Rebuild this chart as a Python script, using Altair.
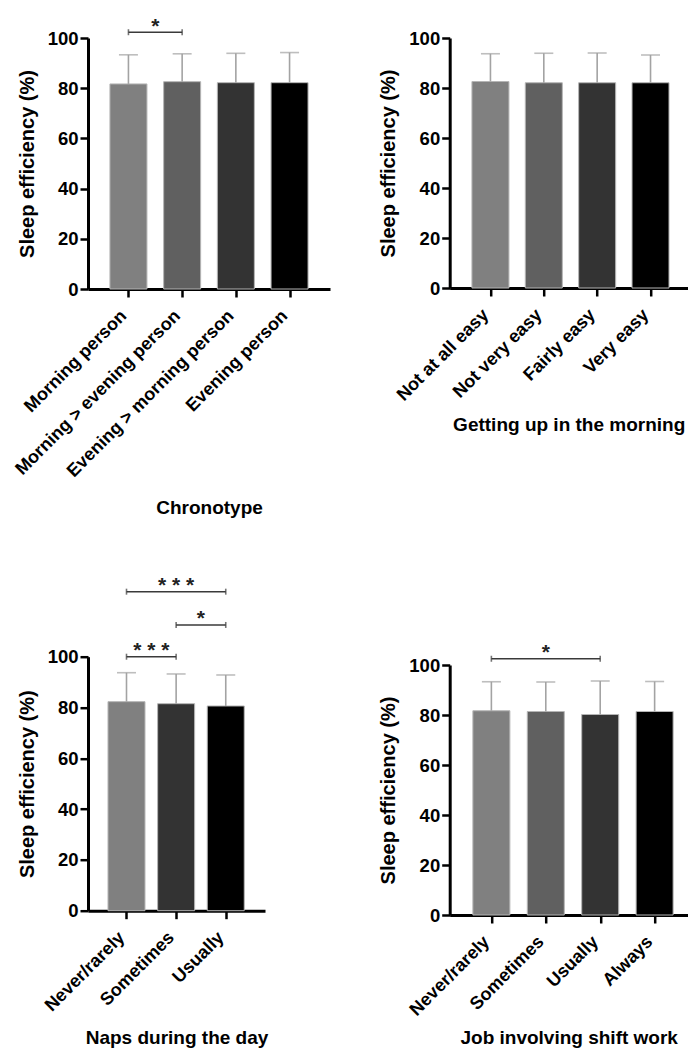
import altair as alt
import pandas as pd

FONT = "Liberation Sans"

# Chronotype
chrono_cats = ["Morning person", "Morning > evening person",
               "Evening > morning person", "Evening person"]
chrono_mean = [81.7, 82.6, 82.2, 82.2]
chrono_sd = [11.6, 11.1, 11.7, 12.0]
chrono_sig = [(0, 1, 102.3, "*")]

# Getting up in the morning
wake_cats = ["Not at all easy", "Not very easy", "Fairly easy", "Very easy"]
wake_mean = [82.6, 82.1, 82.1, 82.1]
wake_sd = [11.1, 11.8, 11.9, 11.1]
wake_sig = []

# Naps during the day
naps_cats = ["Never/rarely", "Sometimes", "Usually"]
naps_mean = [82.3, 81.5, 80.6]
naps_sd = [11.4, 11.7, 12.2]
naps_sig = [(0, 1, 100.0, "***"), (1, 2, 112.5, "*"), (0, 2, 125.6, "***")]

# Job involving shift work
shift_cats = ["Never/rarely", "Sometimes", "Usually", "Always"]
shift_mean = [81.7, 81.4, 80.2, 81.4]
shift_sd = [11.6, 11.8, 13.4, 12.0]
shift_sig = [(0, 2, 102.5, "*")]

y_ticks = [0, 20, 40, 60, 80, 100]

GRAYS4 = ["#808080", "#606060", "#333333", "#000000"]
GRAYS3 = ["#808080", "#333333", "#000000"]
ERR = "#a3a3a3"
BRACKET = "#3a3a3a"


def panel(cats, means, sds, sig, colors, xtitle, width, height, xdomain,
          title_pad):
    n = len(cats)
    df = pd.DataFrame({"idx": list(range(n)), "cat": cats,
                       "mean": means, "sd": sds})
    df["upper"] = df["mean"] + df["sd"]
    names = ",".join("'" + c.replace("'", "\\'") + "'" for c in cats)

    xscale = alt.Scale(domain=xdomain, nice=False, zero=False)
    xaxis = alt.Axis(values=list(range(n)),
                     labelExpr="[" + names + "][datum.value]",
                     title=xtitle, grid=False, labelAngle=-45,
                     labelAlign="right", labelBaseline="middle",
                     labelOverlap=False, labelFlush=False, labelBound=False,
                     labelLimit=0, labelFontSize=18, labelPadding=16,
                     labelOffset=-5, titleFontSize=19, titlePadding=title_pad)
    yscale = alt.Scale(domain=[0, 100], nice=False)
    yaxis = alt.Axis(values=y_ticks, title="Sleep efficiency (%)",
                     grid=False, labelFontSize=18.5, labelPadding=2,
                     titleFontSize=20, titlePadding=10)

    def X(field):
        return alt.X(field, type="quantitative", scale=xscale, axis=xaxis)

    def Y(field):
        return alt.Y(field, type="quantitative", scale=yscale, axis=yaxis)

    base = alt.Chart(df)
    bars = base.mark_bar(size=37, stroke="#b5b5b5", strokeWidth=1).encode(
        x=X("idx"), y=Y("mean"),
        color=alt.Color("idx:O", scale=alt.Scale(domain=list(range(n)),
                                                 range=colors),
                        legend=None))
    err = base.mark_rule(color=ERR, strokeWidth=1.6).encode(
        x=X("idx"), y=Y("mean"), y2="upper:Q")
    cap = base.mark_tick(color=ERR, thickness=1.6, size=19,
                         orient="horizontal").encode(
        x=X("idx"), y=Y("upper"))
    layers = [bars, err, cap]

    if sig:
        sdf = pd.DataFrame(sig, columns=["a", "b", "level", "label"])
        sdf["mid"] = (sdf["a"] + sdf["b"]) / 2
        sbase = alt.Chart(sdf)
        line = sbase.mark_rule(color=BRACKET, strokeWidth=1.6).encode(
            x=X("a"), x2="b:Q", y=Y("level"))
        ends = sbase.transform_fold(["a", "b"], as_=["end", "pos"]).mark_tick(
            color=BRACKET, thickness=1.6, size=6, orient="vertical").encode(
            x=X("pos"), y=Y("level"))
        stars = sbase.transform_calculate(
            shown="join(split(datum.label, ''), ' ')").mark_text(
            font=FONT, fontSize=21, fontWeight="bold", color="#222222",
            baseline="alphabetic", dy=0.5).encode(
            x=X("mid"), y=Y("level"), text="shown:N")
        layers += [line, ends, stars]

    return alt.layer(*layers).properties(width=width, height=height)


p1 = panel(chrono_cats, chrono_mean, chrono_sd, chrono_sig, GRAYS4,
           "Chronotype", 242, 251, [-0.66, 3.66], 18)
p2 = panel(wake_cats, wake_mean, wake_sd, wake_sig, GRAYS4,
           "Getting up in the morning", 238, 250, [-0.67, 3.603], 12)
p3 = panel(naps_cats, naps_mean, naps_sd, naps_sig, GRAYS3,
           "Naps during the day", 177, 254, [-0.675, 2.69], 14)
p4 = panel(shift_cats, shift_mean, shift_sd, shift_sig, GRAYS4,
           "Job involving shift work", 238, 250, [-0.674, 3.516], 10)

left = alt.vconcat(p1, p3, spacing=367.7, bounds="flush").resolve_scale(
    color="independent")
right = alt.vconcat(p2, p4, spacing=377, bounds="flush").resolve_scale(
    color="independent")

chart = alt.hconcat(left, right, spacing=361.7, bounds="flush").resolve_scale(
    color="independent"
).properties(
    padding={"left": 12, "top": 15, "right": 0, "bottom": 0},
    background="white",
).configure_view(stroke=None).configure_axis(
    labelFont=FONT, titleFont=FONT, labelFontWeight="bold",
    titleFontWeight="bold", labelColor="black", titleColor="black",
    domainColor="black", domainWidth=3, tickColor="black", tickWidth=2.5,
    tickSize=8,
)

chart.save("out.html", embed_options={"renderer": "svg", "actions": False})
